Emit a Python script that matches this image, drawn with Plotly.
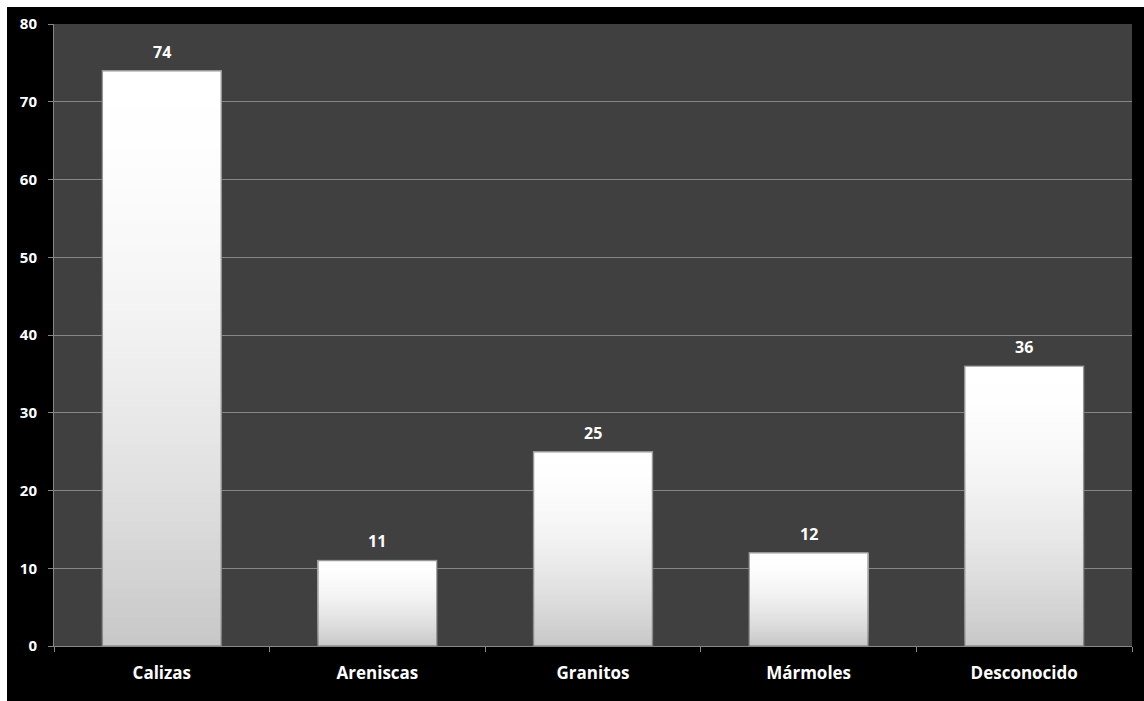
import plotly.graph_objects as go

# Rock types and their counts
categories = ["Calizas", "Areniscas", "Granitos", "Mármoles", "Desconocido"]
counts = [74, 11, 25, 12, 36]
y_ticks = [0, 10, 20, 30, 40, 50, 60, 70, 80]

FONT = "Open Sans"
W, H = 1144, 701
ML, MR, MT, MB = 54, 12, 24, 55
plot_w = W - ML - MR
plot_h = H - MT - MB

fig = go.Figure()

# Each bar is built from overlapping layers that lighten toward the top,
# giving a vertical white-to-grey gradient.
N = 60
for i in range(N):
    frac = i / N
    t = 1 - frac  # distance from the top of the bar (0 = top)
    g = int(round(255 - 55 * t ** 1.8))
    fig.add_trace(go.Bar(
        x=categories,
        y=[v * (1 - frac) for v in counts],
        base=[v * frac for v in counts],
        marker=dict(color=f"rgb({g},{g},{g})", line=dict(width=0)),
        hoverinfo="skip",
        showlegend=False,
    ))

# Outline of each bar
fig.add_trace(go.Bar(
    x=categories,
    y=counts,
    marker=dict(color="rgba(0,0,0,0)", line=dict(color="rgba(125,125,125,0.8)", width=1.5)),
    showlegend=False,
))

# Value labels above bars
for c, v in zip(categories, counts):
    fig.add_annotation(
        x=c, y=v, text=str(v), showarrow=False,
        yanchor="bottom", yshift=6,
        font=dict(family=FONT, size=16, color="white", weight="bold"),
    )

# Black frame behind everything, leaving a thin white margin at top and left
fig.add_shape(
    type="rect", xref="paper", yref="paper", layer="below",
    x0=(7 - ML) / plot_w, x1=(W - ML) / plot_w,
    y0=-(MB + 5) / plot_h, y1=(plot_h + MT - 7) / plot_h,
    fillcolor="black", line=dict(width=0),
)
# Dark grey plotting area
fig.add_shape(
    type="rect", xref="x domain", yref="y domain", layer="below",
    x0=0, x1=1, y0=0, y1=1,
    fillcolor="#404040", line=dict(width=0),
)

fig.update_layout(
    width=W, height=H,
    margin=dict(l=ML, r=MR, t=MT, b=MB),
    paper_bgcolor="white",
    plot_bgcolor="rgba(0,0,0,0)",
    barmode="overlay",
    bargap=0.448,
    showlegend=False,
    font=dict(family=FONT, color="white"),
)

fig.update_xaxes(
    showline=True, linecolor="#868686", linewidth=1,
    ticks="outside", tickson="boundaries", ticklen=5, tickcolor="#868686",
    tickfont=dict(family=FONT, size=17, color="white", weight="bold"),
    ticklabelstandoff=12,
    showgrid=False,
)
fig.update_yaxes(
    range=[0, 80], tickvals=y_ticks,
    showline=True, linecolor="#868686", linewidth=1,
    ticks="outside", ticklen=5, tickcolor="#868686",
    tickfont=dict(family=FONT, size=15, color="white", weight="bold"),
    ticklabelstandoff=8,
    showgrid=True, gridcolor="#868686", gridwidth=1,
    zeroline=False,
)

fig.write_html("out.html")
